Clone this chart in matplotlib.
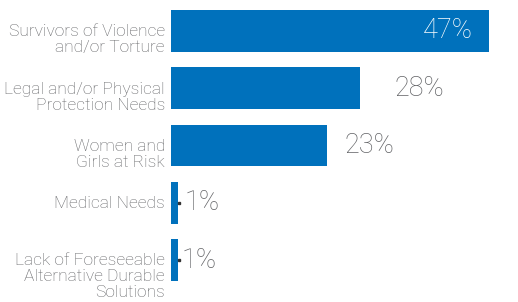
import matplotlib
matplotlib.use("Agg")
import matplotlib.pyplot as plt
import matplotlib.transforms as mtransforms

# data
categories = [
    "Survivors of Violence\nand/or Torture",
    "Legal and/or Physical\nProtection Needs",
    "Women and\nGirls at Risk",
    "Medical Needs",
    "Lack of Foreseeable\nAlternative Durable\nSolutions",
]
values = [47, 28, 23, 1, 1]
value_labels = ["47%", "28%", "23%", "1%", "1%"]

BLUE = "#0071bc"
GREY = "#626366"
plt.rcParams['font.family'] = ['Roboto', 'DejaVu Sans']

fig = plt.figure(figsize=(5.18, 3.02), dpi=100)
ax = fig.add_axes([0.330, 0.0, 0.670, 1.0])

y = list(range(len(values)))
ax.barh(y, values, height=0.73, color=BLUE)
ax.set_xlim(0, 51.3)
ax.set_ylim(4.733, -0.541)
ax.axis('off')

# category labels, top-aligned a bit below each bar's top edge
lab_tr = mtransforms.blended_transform_factory(ax.transAxes, ax.transData)
lab_tr = lab_tr + mtransforms.ScaledTranslation(-6 / 100, 0, fig.dpi_scale_trans)
for i, cat in enumerate(categories):
    ax.text(0, i - 0.365 + 0.25, cat, transform=lab_tr, ha='right', va='top',
            fontsize=12.5, color=GREY, fontweight='light', linespacing=1.08)

# value labels (first one sits inside the bar)
offsets_px = [-16, 34, 18, 7, 4]
for i, (v, lab) in enumerate(zip(values, value_labels)):
    tr = ax.transData + mtransforms.ScaledTranslation(offsets_px[i] / 100, 0, fig.dpi_scale_trans)
    inside = i == 0
    ax.text(v, i, lab, transform=tr, ha='right' if inside else 'left', va='center',
            fontsize=19.5, color='white' if inside else GREY, fontweight='light')

# tiny leader ticks next to the 1% bars
for i, v in enumerate(values):
    if v < 5:
        tr = ax.transData + mtransforms.ScaledTranslation(1.5 / 100, 0, fig.dpi_scale_trans)
        ax.plot([v], [i], marker='s', markersize=1.6, color='#333333', transform=tr)

fig.savefig("out.png", dpi=100)
